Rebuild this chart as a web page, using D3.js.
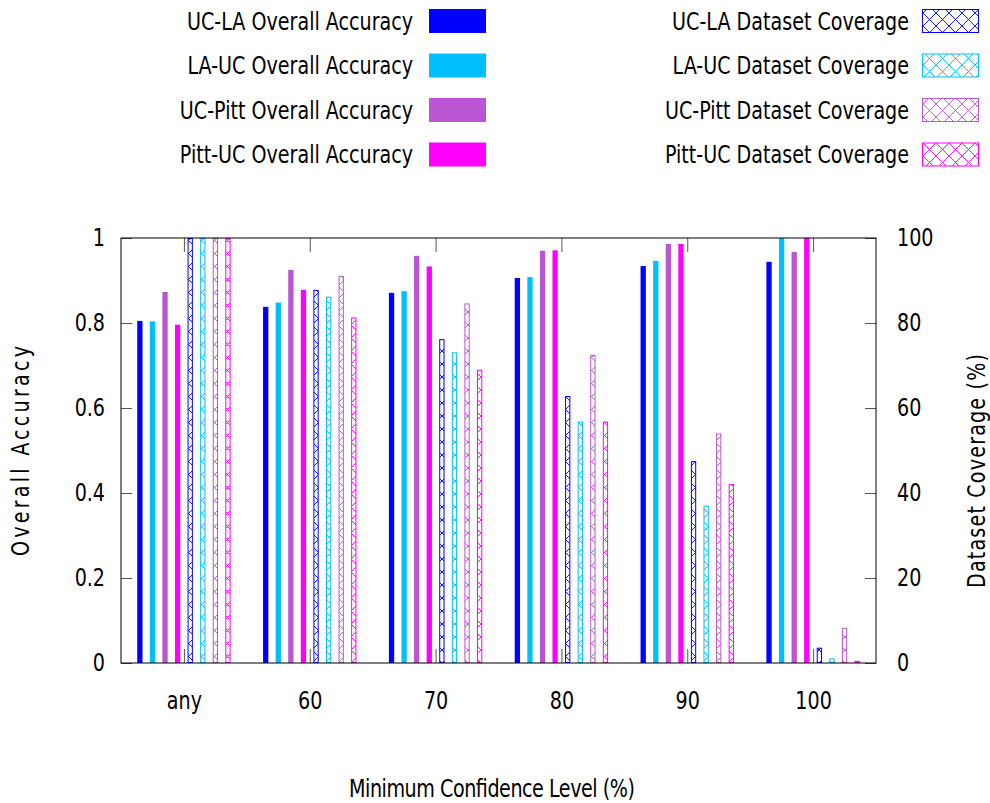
<!DOCTYPE html>
<html><head><meta charset="utf-8">
<script src="https://cdn.jsdelivr.net/npm/d3@7"></script>
<style>
body{margin:0;background:#fff;}
svg text{font-family:"DejaVu Sans Condensed","DejaVu Sans",sans-serif;fill:#000;}
</style></head>
<body><svg id="c" width="990" height="803"></svg>
<script>
const categories = ["any","60","70","80","90","100"];
const accSeries = ["UC-LA Overall Accuracy","LA-UC Overall Accuracy","UC-Pitt Overall Accuracy","Pitt-UC Overall Accuracy"];
const covSeries = ["UC-LA Dataset Coverage","LA-UC Dataset Coverage","UC-Pitt Dataset Coverage","Pitt-UC Dataset Coverage"];
const colors = ["#0000ff","#00bfff","#ba55d3","#ff00ff"];
const ucLaAcc   = [0.805,0.838,0.871,0.906,0.934,0.944];
const laUcAcc   = [0.804,0.848,0.875,0.908,0.946,1.000];
const ucPittAcc = [0.873,0.925,0.958,0.970,0.986,0.967];
const pittUcAcc = [0.796,0.878,0.933,0.971,0.986,1.000];
const ucLaCov   = [100,87.8,76.2,62.8,47.5,3.6];
const laUcCov   = [100,86.2,73.1,56.8,37.0,1.1];
const ucPittCov = [100,91.1,84.6,72.5,54.0,8.3];
const pittUcCov = [100,81.3,69.0,56.8,42.1,0.5];
const accTicks = [0,0.2,0.4,0.6,0.8,1];
const covTicks = [0,20,40,60,80,100];

const accData = [ucLaAcc,laUcAcc,ucPittAcc,pittUcAcc];
const covData = [ucLaCov,laUcCov,ucPittCov,pittUcCov];

const svg = d3.select("#c");
const L=121,R=876,T=238,B=663;
const x = d3.scaleLinear().domain([-0.5,categories.length-0.5]).range([L,R]);
const yA = d3.scaleLinear().domain([0,1]).range([B,T]);
const yC = d3.scaleLinear().domain([0,100]).range([B,T]);
const slot = 0.1, bw = x(0.042)-x(0);
const FS = 24, SX = 0.885;

function txt(tx,ty,s,anchor,rot,len){
  const t = svg.append("text")
    .attr("transform",`translate(${tx},${ty})${rot?" rotate("+rot+")":""} scale(${SX},1)`)
    .attr("text-anchor",anchor).attr("font-size",FS).text(s);
  if(len) t.attr("textLength",len/SX).attr("lengthAdjust","spacing");
  return t;
}

const defs = svg.append("defs");
const P = 13;
colors.forEach((c,i)=>{
  const p = defs.append("pattern").attr("id","hatch"+i).attr("patternUnits","userSpaceOnUse")
    .attr("width",P).attr("height",P);
  p.append("path").attr("d",`M0,0L${P},${P}M${P},0L0,${P}`).attr("stroke",c).attr("stroke-width",0.9).attr("fill","none");
});

// accuracy bars
accData.forEach((vals,j)=>{
  svg.append("g").selectAll("rect").data(vals).join("rect")
    .attr("x",(d,i)=>x(i+(j-3.5)*slot)-bw/2)
    .attr("y",d=>yA(d)).attr("width",bw).attr("height",d=>B-yA(d))
    .attr("fill",colors[j]);
});
// coverage bars
covData.forEach((vals,j)=>{
  svg.append("g").selectAll("rect").data(vals).join("rect")
    .attr("x",(d,i)=>x(i+(j+0.5)*slot)-bw/2+0.5)
    .attr("y",d=>yC(d)+0.5).attr("width",bw-1).attr("height",d=>Math.max(0,B-yC(d)-1))
    .attr("fill","url(#hatch"+j+")").attr("stroke",colors[j]).attr("stroke-width",1);
});

// axes
const gL = svg.append("g").attr("transform",`translate(${L},0)`)
  .call(d3.axisLeft(yA).tickValues(accTicks).tickFormat(d=>d===0?"0":d===1?"1":d3.format(".1f")(d)).tickSizeInner(-11).tickSizeOuter(0).tickPadding(16));
const gR = svg.append("g").attr("transform",`translate(${R},0)`)
  .call(d3.axisRight(yC).tickValues(covTicks).tickSizeInner(-11).tickSizeOuter(0).tickPadding(21));
const gB = svg.append("g").attr("transform",`translate(0,${B})`)
  .call(d3.axisBottom(x).tickValues(d3.range(categories.length)).tickFormat(i=>categories[i]).tickSizeInner(-14).tickSizeOuter(0).tickPadding(29));
const gT = svg.append("g").attr("transform",`translate(0,${T})`)
  .call(d3.axisTop(x).tickValues(d3.range(categories.length)).tickFormat("").tickSizeInner(-14).tickSizeOuter(0));
[gL,gR,gB,gT].forEach(g=>{
  g.select(".domain").remove();
  g.selectAll(".tick line").attr("stroke","#555");
  g.selectAll("text").attr("font-size",FS).attr("font-family",null).each(function(){
    const t = d3.select(this);
    const tx = +t.attr("x")||0, ty = +t.attr("y")||0;
    t.attr("x",null).attr("y",null).attr("transform",`translate(${tx},${ty}) scale(${SX},1)`);
  });
});
svg.append("rect").attr("x",L).attr("y",T).attr("width",R-L).attr("height",B-T)
  .attr("fill","none").attr("stroke","#000").attr("stroke-width",1);

// titles
txt(29,451,"Overall Accuracy","middle",-90,210);
txt(985,471,"Dataset Coverage (%)","middle",-90,234);
txt(492,797,"Minimum Confidence Level (%)","middle",null,286);

// legend
const rowY = [21,65.5,110,154.5];
accSeries.forEach((s,j)=>{
  txt(413,rowY[j]+8.5,s,"end");
  svg.append("rect").attr("x",429).attr("y",rowY[j]-12).attr("width",57).attr("height",24).attr("fill",colors[j]);
});
covSeries.forEach((s,j)=>{
  txt(909,rowY[j]+8.5,s,"end");
  svg.append("rect").attr("x",922.5).attr("y",rowY[j]-11.5).attr("width",56).attr("height",23)
    .attr("fill","url(#hatch"+j+")").attr("stroke",colors[j]).attr("stroke-width",1);
});
</script></body></html>
